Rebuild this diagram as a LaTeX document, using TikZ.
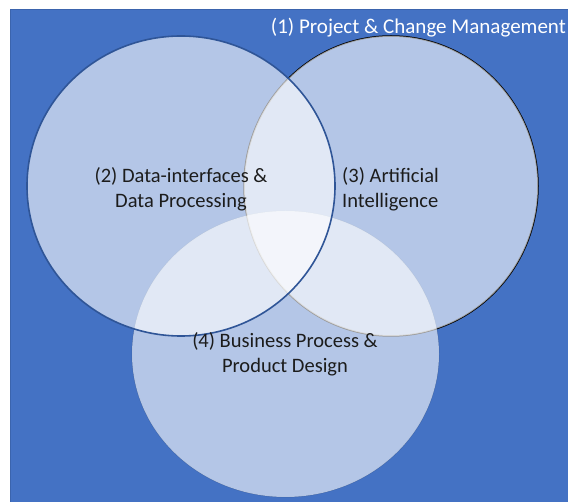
\documentclass[tikz,border=0pt]{standalone}
\usepackage{fontspec}
\setmainfont{Carlito}
\definecolor{bgblue}{HTML}{4472C4}
\definecolor{bgedge}{HTML}{3B64AD}
\definecolor{darkblue}{HTML}{2F5597}
\definecolor{edgefour}{HTML}{3E64A8}
\definecolor{textdark}{HTML}{1C1C1C}
\tikzset{
  lbl/.style={font=\fontsize{20.5}{25}\selectfont, text=textdark, inner sep=0pt},
  ttl/.style={font=\fontsize{21}{25}\selectfont, text=white, inner sep=0pt},
  venn/.style={fill=white, fill opacity=0.6}
}
\begin{document}
\begin{tikzpicture}[x=1pt,y=-1pt]
\useasboundingbox (0,0) rectangle (568,502);
\fill[white] (0,0) rectangle (568,502);
\draw[fill=bgblue, draw=bgedge, line width=0.8pt] (10,9) rectangle (569,503);
% borders of circles 3 and 4 (under the fills)
\draw[edgefour, line width=0.9pt] (285.5,354) ellipse [x radius=153.5, y radius=143];
\draw[black, line width=1.5pt] (391,186) ellipse [x radius=147, y radius=150];
% fills
\fill[venn] (391,186) ellipse [x radius=147, y radius=150];
\fill[venn] (285.5,354) ellipse [x radius=153.5, y radius=143];
\fill[venn] (181,186) ellipse [x radius=154, y radius=150];
% border of circle 2 on top
\draw[darkblue, line width=1.6pt] (181,186) ellipse [x radius=154, y radius=150];
% labels
\node[ttl, anchor=base east] (t1) at (566,34) {(1) Project \& Change Management};
\node[lbl, align=center, anchor=base] (t2) at (181,208) {(2) Data-interfaces \&\\Data Processing};
\node[lbl, align=left, anchor=base west] (t3) at (342,208) {(3) Artificial\\Intelligence};
\node[lbl, align=center, anchor=base] (t4) at (285,373) {(4) Business Process \&\\Product Design};
\end{tikzpicture}
\end{document}
